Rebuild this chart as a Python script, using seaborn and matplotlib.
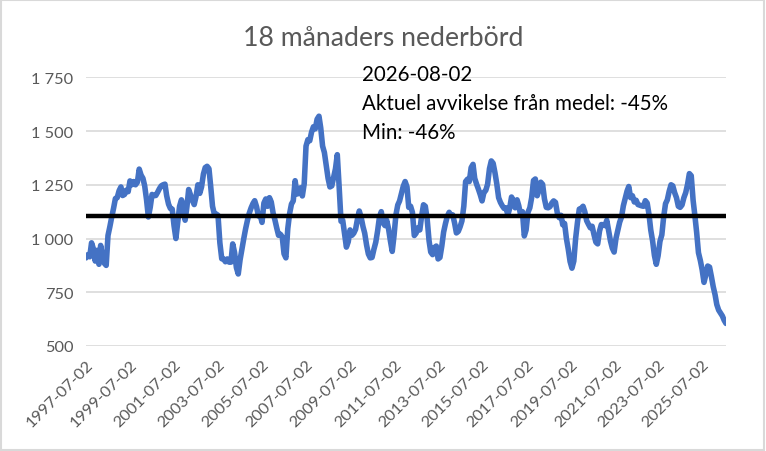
import matplotlib
matplotlib.use("Agg")
import matplotlib.pyplot as plt
import seaborn as sns
import pandas as pd
from matplotlib.ticker import FuncFormatter
from matplotlib.patches import Rectangle

# ---------------- data (monthly readings of the 18-month precipitation sum) ----------------
start_date = "1997-07-02"
end_date = "2026-08-02"

vals_1997_2001 = [910, 925, 915, 980, 952, 895, 945, 880, 968, 918, 885, 875, 1014, 1055, 1100,
                  1140, 1186, 1190, 1222, 1240, 1200, 1205, 1225, 1218, 1268, 1250, 1265, 1250,
                  1262, 1323, 1295, 1280, 1245, 1180, 1100, 1145, 1205, 1200, 1200, 1215, 1232,
                  1245, 1250]
vals_2001_2004 = [1253, 1199, 1160, 1140, 1137, 1060, 1000, 1075, 1150, 1180, 1155, 1085, 1150,
                  1228, 1203, 1178, 1158, 1195, 1250, 1210, 1240, 1300, 1330, 1336, 1325, 1245,
                  1150, 1114, 1114, 1108, 980, 906, 905, 892, 905, 890, 890, 975, 935, 865, 835,
                  900, 950, 1000]
vals_2004_2008 = [1045, 1085, 1118, 1143, 1163, 1176, 1148, 1105, 1107, 1075, 1165, 1184, 1150,
                  1190, 1170, 1118, 1085, 1050, 1015, 1020, 1008, 929, 910, 1045, 1115, 1160, 1175,
                  1269, 1207, 1210, 1236, 1198, 1255, 1430, 1460, 1455, 1495, 1520, 1510, 1555,
                  1569, 1515, 1430]
vals_2008_2011 = [1400, 1340, 1280, 1240, 1245, 1285, 1325, 1390, 1240, 1080, 1085, 1020, 960,
                  985, 1040, 1015, 1025, 1043, 1091, 1128, 1098, 1055, 1025, 970, 928, 910, 912,
                  950, 983, 1035, 1100, 1125, 1072, 1060, 1085, 1045, 990, 940, 1014, 1110, 1156,
                  1175, 1210, 1243]
vals_2012_2015 = [1265, 1240, 1145, 1150, 1122, 1014, 1025, 1050, 1040, 1105, 1157, 1150, 1090,
                  990, 937, 925, 958, 965, 905, 912, 965, 1030, 1070, 1103, 1122, 1107, 1110, 1072,
                  1026, 1033, 1054, 1082, 1150, 1265, 1276, 1265, 1330, 1345, 1280, 1253, 1230,
                  1204, 1175]
vals_2015_2019 = [1215, 1224, 1253, 1325, 1361, 1350, 1305, 1255, 1190, 1168, 1152, 1140, 1143,
                  1110, 1140, 1193, 1177, 1143, 1180, 1153, 1110, 1125, 1012, 1040, 1122, 1143,
                  1190, 1270, 1277, 1199, 1226, 1262, 1252, 1185, 1145, 1143, 1148, 1165, 1175,
                  1168, 1119, 1097, 1108, 1064]
vals_2019_2022 = [1070, 1000, 950, 893, 862, 895, 1000, 1076, 1137, 1140, 1150, 1125, 1083, 1066,
                  1050, 1057, 1018, 983, 975, 1035, 1065, 1064, 1060, 1085, 1037, 989, 955, 937,
                  1001, 1038, 1076, 1100, 1152, 1186, 1221, 1242, 1190, 1199, 1170, 1178, 1158,
                  1155, 1152]
vals_2022_2026 = [1150, 1176, 1165, 1110, 1040, 988, 921, 880, 920, 987, 1017, 1100, 1162, 1180,
                  1220, 1250, 1245, 1213, 1190, 1150, 1145, 1156, 1190, 1213, 1252, 1302, 1292,
                  1178, 1110, 1028, 934, 898, 855, 796, 832, 872, 867, 824, 776, 738, 693, 667,
                  654, 640, 620, 605]

mean_value = 1105

tick_years = [1997, 1999, 2001, 2003, 2005, 2007, 2009, 2011, 2013, 2015, 2017, 2019, 2021, 2023, 2025]
tick_labels = [f"{y}-07-02" for y in tick_years]
y_ticks = [500, 750, 1000, 1250, 1500, 1750]

title = "18 månaders nederbörd"
info_lines = ["2026-08-02", "Aktuel avvikelse från medel: -45%", "Min: -46%"]

# ---------------- build frame ----------------
values = (vals_1997_2001 + vals_2001_2004 + vals_2004_2008 + vals_2008_2011 +
          vals_2012_2015 + vals_2015_2019 + vals_2019_2022 + vals_2022_2026)
dates = pd.date_range(start_date, end_date, freq=pd.DateOffset(months=1))
n = min(len(dates), len(values))
df = pd.DataFrame({"date": dates[:n], "value": values[:n]})

# ---------------- style ----------------
sns.set_theme(style="white")
plt.rcParams['font.family'] = ['Lato', 'DejaVu Sans']

fig = plt.figure(figsize=(7.66, 4.52), dpi=100)
ax = fig.add_axes([86 / 766, 1 - 347 / 452, 640 / 766, (347 - 78.3) / 452])

ax.set_ylim(500, 1750)
ax.set_xlim(df["date"].iloc[0], df["date"].iloc[-1])
ax.set_yticks(y_ticks)
ax.yaxis.set_major_formatter(FuncFormatter(lambda v, p: f"{int(v):,}".replace(",", " ")))
ax.grid(axis="y", color="#d9d9d9", lw=1.2, zorder=0)
ax.grid(axis="x", visible=False)
ax.set_axisbelow(True)
for s in ax.spines.values():
    s.set_visible(False)

sns.lineplot(data=df, x="date", y="value", ax=ax, color="#4472C4", lw=4.0, zorder=3)
ax.axhline(mean_value, color="black", lw=3.2, zorder=4)

ax.set_xticks(pd.to_datetime([f"{y}-07-02" for y in tick_years]))
ax.set_xticklabels(tick_labels, rotation=45, ha="right", va="top", rotation_mode="anchor")
ax.tick_params(axis="both", length=0, colors="#595959", labelsize=11.8)
ax.tick_params(axis="y", pad=9)
ax.tick_params(axis="x", pad=8)
ax.set_xlabel("")
ax.set_ylabel("")

fig.text(0.5, 1 - 38 / 452, title, ha="center", va="center", fontsize=19.2, color="#595959")
for i, line in enumerate(info_lines):
    fig.text(362 / 766, 1 - (75 + 29 * i) / 452, line, ha="left", va="center",
             fontsize=14.8, color="black")

fig.add_artist(Rectangle((0.001, 0.002), 0.997, 0.996, transform=fig.transFigure,
                         fill=False, edgecolor="#d9d9d9", lw=1.5))

fig.savefig("out.png", dpi=100)
